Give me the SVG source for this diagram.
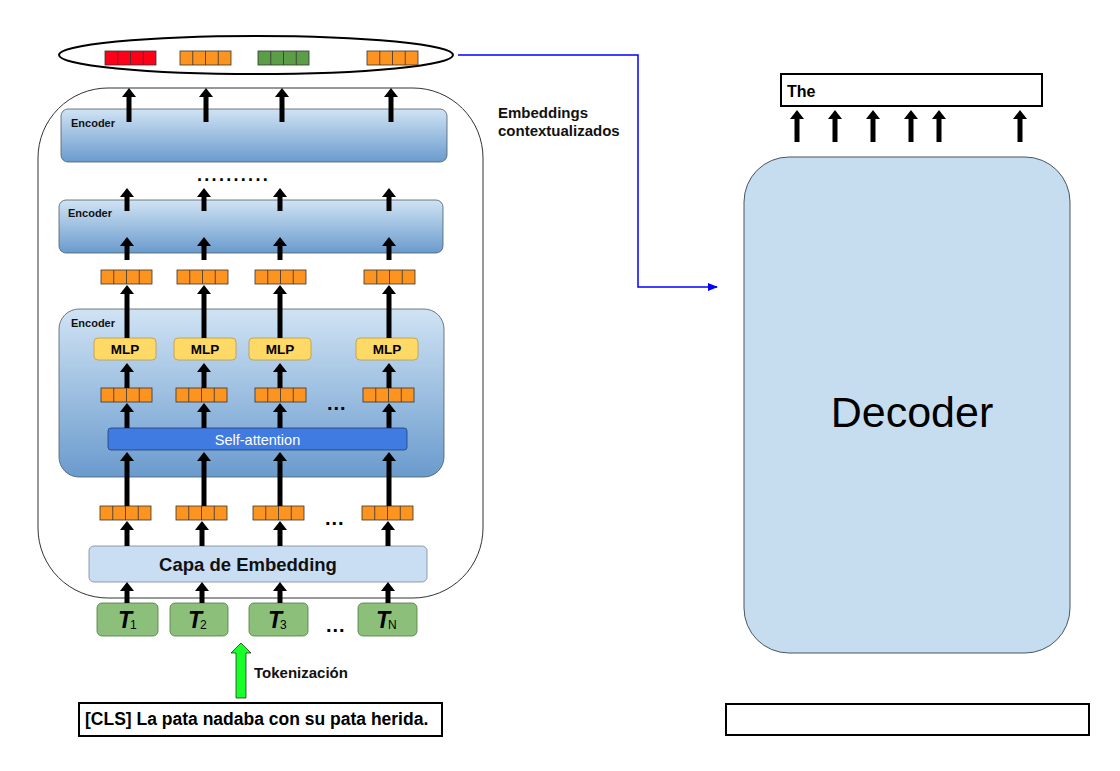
<svg xmlns="http://www.w3.org/2000/svg" width="1120" height="771" viewBox="0 0 1120 771">
<style>
  text { font-family: "Liberation Sans", Arial, sans-serif; }
  .enc { fill: url(#encGrad); stroke: #4d5a66; stroke-width: 0.8; }
  .encLbl { font-size: 11px; font-weight: bold; fill: #111; }
  .cell { stroke: #333; stroke-width: 0.8; }
  .o { fill: #fe9420; }
  .r { fill: #ff0019; }
  .g { fill: #5c9e48; }
  .mlp { fill: #ffd966; stroke: #b59b4a; stroke-width: 0.8; }
  .mlpT { font-size: 13.5px; font-weight: bold; fill: #000; text-anchor: middle; }
  .tok { fill: #8cc07a; stroke: #4f7a40; stroke-width: 0.8; }
  .tokT { font-size: 23px; font-weight: bold; font-style: italic; fill: #000; letter-spacing: -1px; }
  .sub { font-size: 12px; font-style: normal; font-weight: normal; letter-spacing: 0; }
  .arr { stroke: #000; stroke-width: 5; fill: none; marker-end: url(#ah); }
  .dots { font-size: 20px; font-weight: bold; fill: #000; }
</style>
<defs>
  <linearGradient id="encGrad" x1="0" y1="0" x2="0" y2="1">
    <stop offset="0" stop-color="#d0e3f4"/>
    <stop offset="1" stop-color="#6a9bcd"/>
  </linearGradient>
  <marker id="ah" markerUnits="userSpaceOnUse" markerWidth="9" markerHeight="14" refX="1" refY="7" orient="auto">
    <path d="M0,0 L9,7 L0,14 z" fill="#000"/>
  </marker>
  <marker id="bh" markerUnits="userSpaceOnUse" markerWidth="10" markerHeight="8" refX="9" refY="4" orient="auto">
    <path d="M0,0 L10,4 L0,8 z" fill="#0000ff"/>
  </marker>
  <g id="cells">
    <line x1="12.75" y1="0" x2="12.75" y2="14" class="cell"/>
    <line x1="25.5" y1="0" x2="25.5" y2="14" class="cell"/>
    <line x1="38.25" y1="0" x2="38.25" y2="14" class="cell"/>
  </g>
  <g id="vo"><rect x="0" y="0" width="51" height="14" class="cell o"/><use href="#cells"/></g>
  <g id="vr"><rect x="0" y="0" width="51" height="14" class="cell r"/><use href="#cells"/></g>
  <g id="vg"><rect x="0" y="0" width="51" height="14" class="cell g"/><use href="#cells"/></g>
</defs>

<rect width="1120" height="771" fill="#ffffff"/>

<!-- outer encoder stack container -->
<g id="encoder-stack">
  <rect x="38" y="88" width="445" height="510" rx="70" ry="70" fill="none" stroke="#333" stroke-width="1"/>
</g>

<!-- output ellipse -->
<g id="output-embeddings">
  <ellipse cx="256" cy="55" rx="197" ry="19" fill="#fff" stroke="#000" stroke-width="2"/>
  <use href="#vr" x="105" y="51"/>
  <use href="#vo" x="180" y="51"/>
  <use href="#vg" x="258" y="51"/>
  <use href="#vo" x="367" y="51"/>
</g>

<!-- Encoder 1 (top) -->
<g id="encoder-top">
  <rect x="61" y="109" width="386" height="53" rx="7" class="enc"/>
  <text x="71" y="127" class="encLbl">Encoder</text>
</g>

<g id="ellipsis-layers">
  <text x="197" y="181" class="dots" style="font-size:18px; letter-spacing:2.3px">..........</text>
</g>

<!-- Encoder 2 -->
<g id="encoder-mid">
  <rect x="59" y="200" width="384" height="53" rx="7" class="enc"/>
  <text x="68" y="217" class="encLbl">Encoder</text>
</g>

<!-- vectors between encoder 3 and encoder 2 -->
<g id="vectors-row2">
  <use href="#vo" x="101" y="270"/>
  <use href="#vo" x="177" y="270"/>
  <use href="#vo" x="255" y="270"/>
  <use href="#vo" x="364" y="270"/>
</g>

<!-- Encoder 3 (detailed) -->
<g id="encoder-detail">
  <rect x="59" y="309" width="385" height="168" rx="20" class="enc"/>
  <text x="71" y="327" class="encLbl">Encoder</text>
</g>

<g id="mlp1"><rect x="94" y="338" width="62" height="22" rx="4" class="mlp"/><text x="125" y="354" class="mlpT">MLP</text></g>
<g id="mlp2"><rect x="174" y="338" width="62" height="22" rx="4" class="mlp"/><text x="205" y="354" class="mlpT">MLP</text></g>
<g id="mlp3"><rect x="249" y="338" width="62" height="22" rx="4" class="mlp"/><text x="280" y="354" class="mlpT">MLP</text></g>
<g id="mlp4"><rect x="356" y="338" width="62" height="22" rx="4" class="mlp"/><text x="387" y="354" class="mlpT">MLP</text></g>

<g id="vectors-attn">
  <use href="#vo" x="101" y="388"/>
  <use href="#vo" x="176" y="388"/>
  <use href="#vo" x="255" y="388"/>
  <use href="#vo" x="363" y="388"/>
  <text x="327" y="410" class="dots" style="letter-spacing:1px">...</text>
</g>

<g id="self-attention">
  <rect x="108" y="428" width="299" height="22" rx="3" fill="#3f7be0" stroke="#1f3f7a" stroke-width="0.8"/>
  <text x="257.5" y="444.5" text-anchor="middle" fill="#ffffff" style="font-size:14.5px">Self-attention</text>
</g>

<g id="vectors-input">
  <use href="#vo" x="100" y="506"/>
  <use href="#vo" x="176" y="506"/>
  <use href="#vo" x="253" y="506"/>
  <use href="#vo" x="362" y="506"/>
  <text x="325" y="525" class="dots" style="letter-spacing:1px">...</text>
</g>

<g id="embedding-layer">
  <rect x="89" y="546" width="338" height="36" rx="5" fill="#c9def2" stroke="#7a8796" stroke-width="0.8"/>
  <text x="248" y="571" text-anchor="middle" style="font-size:18.5px; font-weight:bold" fill="#111">Capa de Embedding</text>
</g>

<g id="token1"><rect x="97" y="603" width="61" height="33" rx="5" class="tok"/><text x="118" y="628" class="tokT">T<tspan class="sub" dx="-1" dy="1">1</tspan></text></g>
<g id="token2"><rect x="170" y="603" width="58" height="33" rx="5" class="tok"/><text x="188" y="628" class="tokT">T<tspan class="sub" dx="-1" dy="1">2</tspan></text></g>
<g id="token3"><rect x="249" y="603" width="59" height="33" rx="5" class="tok"/><text x="268" y="628" class="tokT">T<tspan class="sub" dx="-1" dy="1">3</tspan></text></g>
<g id="tokenN"><rect x="358" y="603" width="59" height="33" rx="5" class="tok"/><text x="376" y="628" class="tokT">T<tspan class="sub" dx="-1" dy="1">N</tspan></text></g>
<g id="token-dots"><text x="326" y="632" class="dots" style="letter-spacing:1px">...</text></g>

<g id="tokenization-arrow">
  <path d="M241,643 L251,653 L246,653 L246,698 L236,698 L236,653 L231,653 Z" fill="#19ff2a" stroke="#1a3a1a" stroke-width="0.8"/>
  <text x="254" y="678" style="font-size:15px; font-weight:bold" fill="#111">Tokenización</text>
</g>

<g id="input-sentence">
  <rect x="79" y="703" width="363" height="33" fill="#fff" stroke="#000" stroke-width="2"/>
  <text x="85" y="725" style="font-size:17.5px; font-weight:bold" fill="#000">[CLS] La pata nadaba con su pata herida.</text>
</g>

<g id="label-contextual">
  <text x="498" y="118" style="font-size:15px; font-weight:bold" fill="#111">Embeddings</text>
  <text x="498" y="136" style="font-size:15px; font-weight:bold" fill="#111">contextualizados</text>
</g>

<!-- Decoder side -->
<g id="decoder">
  <rect x="744" y="157" width="326" height="496" rx="45" ry="45" fill="#c6ddf0" stroke="#4a5560" stroke-width="1"/>
  <text x="912" y="427" text-anchor="middle" style="font-size:43px" fill="#000">Decoder</text>
</g>

<g id="output-text">
  <rect x="781" y="74" width="261" height="32" fill="#fff" stroke="#000" stroke-width="2"/>
  <text x="787" y="97" style="font-size:16px; font-weight:bold" fill="#000">The</text>
</g>

<g id="decoder-input">
  <rect x="726" y="704" width="363" height="31" fill="#fff" stroke="#000" stroke-width="2"/>
</g>

<!-- connectors -->
<g id="connectors">
  <path class="arr" d="M129,122 V96"/>
  <path class="arr" d="M206,122 V96"/>
  <path class="arr" d="M282,122 V96"/>
  <path class="arr" d="M391,122 V96"/>
  <path class="arr" d="M127,211 V196"/>
  <path class="arr" d="M204,211 V196"/>
  <path class="arr" d="M280,211 V196"/>
  <path class="arr" d="M389,211 V196"/>
  <path class="arr" d="M127,260 V245"/>
  <path class="arr" d="M204,260 V245"/>
  <path class="arr" d="M280,260 V245"/>
  <path class="arr" d="M389,260 V245"/>
  <path class="arr" d="M127,338 V293"/>
  <path class="arr" d="M204,338 V293"/>
  <path class="arr" d="M280,338 V293"/>
  <path class="arr" d="M389,338 V293"/>
  <path class="arr" d="M127,388 V371"/>
  <path class="arr" d="M204,388 V371"/>
  <path class="arr" d="M280,388 V371"/>
  <path class="arr" d="M389,388 V371"/>
  <path class="arr" d="M127,428 V411"/>
  <path class="arr" d="M204,428 V411"/>
  <path class="arr" d="M280,428 V411"/>
  <path class="arr" d="M389,428 V411"/>
  <path class="arr" d="M127,506 V460"/>
  <path class="arr" d="M204,506 V460"/>
  <path class="arr" d="M280,506 V460"/>
  <path class="arr" d="M389,506 V460"/>
  <path class="arr" d="M127,546 V529"/>
  <path class="arr" d="M202,546 V529"/>
  <path class="arr" d="M280,546 V529"/>
  <path class="arr" d="M388,546 V529"/>
  <path class="arr" d="M127,603 V590"/>
  <path class="arr" d="M202,603 V590"/>
  <path class="arr" d="M280,603 V590"/>
  <path class="arr" d="M388,603 V590"/>
  <path class="arr" d="M797,142 V118"/>
  <path class="arr" d="M835,142 V118"/>
  <path class="arr" d="M873,142 V118"/>
  <path class="arr" d="M911,142 V118"/>
  <path class="arr" d="M939,142 V118"/>
  <path class="arr" d="M1020,142 V118"/>
  <path d="M458,55 H638 V287 H717" fill="none" stroke="#0000ff" stroke-width="1.5" marker-end="url(#bh)"/>
</g>
</svg>
